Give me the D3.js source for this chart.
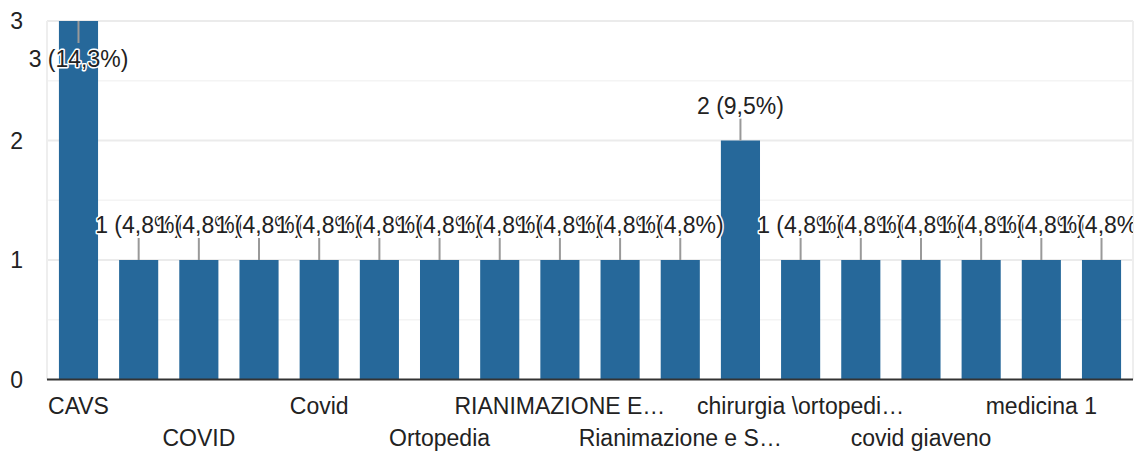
<!DOCTYPE html>
<html><head><meta charset="utf-8">
<script src="https://cdn.jsdelivr.net/npm/d3@7"></script>
<style>
html,body{margin:0;padding:0;background:#fff;}
svg{display:block;font-family:Arial,"Liberation Sans",sans-serif;}
</style></head><body>
<svg id="chart" width="1145" height="453"></svg>
<script>
// Categories (every other label is hidden in the original chart; hidden names are estimates)
const categories = [
  "CAVS", "CHIRURGIA", "COVID", "COVID 19", "Covid", "Medicina", "Ortopedia",
  "PRONTO SOCCORSO", "RIANIMAZIONE E…", "Rianimazione", "Rianimazione e S…",
  "Terapia intensiva", "chirurgia \\ortopedi…", "covid", "covid giaveno",
  "medicina", "medicina 1", "ortopedia"
];
const counts = [3,1,1,1,1,1,1,1,1,1,1,2,1,1,1,1,1,1];
const yTicks = [0,1,2,3];
const yMinorTicks = [0.5,1.5,2.5];

(function(){
const total = d3.sum(counts);
const svg = d3.select("#chart");
const pLeft = 48.4, pRight = 1131.6, pTop = 21, pBottom = 379.5;
const frameL = 47, frameR = 1133;
const FS = 23;

const x = d3.scaleBand().domain(categories).range([pLeft, pRight])
  .paddingInner(0.35).paddingOuter(0.175);
const y = d3.scaleLinear().domain([0,3]).range([pBottom, pTop]);

// minor gridlines
svg.append("g").selectAll("line").data(yMinorTicks).join("line")
  .attr("x1", frameL).attr("x2", frameR)
  .attr("y1", d=>y(d)).attr("y2", d=>y(d))
  .attr("stroke", "#f4f4f4").attr("stroke-width", 1.5);
// major gridlines
svg.append("g").selectAll("line").data(yTicks.filter(d=>d>0)).join("line")
  .attr("x1", frameL).attr("x2", frameR)
  .attr("y1", d=>y(d)).attr("y2", d=>y(d))
  .attr("stroke", "#ebebeb").attr("stroke-width", 2);
// vertical frame lines
svg.append("g").selectAll("line").data([frameL, frameR]).join("line")
  .attr("x1", d=>d).attr("x2", d=>d).attr("y1", pTop).attr("y2", pBottom)
  .attr("stroke", "#eeeeee").attr("stroke-width", 2);

// y tick labels
svg.append("g").selectAll("text").data(yTicks).join("text")
  .attr("x", 23).attr("y", d=>y(d)).attr("dy", "0.36em")
  .attr("text-anchor", "end").attr("font-size", FS).attr("fill", "#222")
  .text(d=>d);

// bars
svg.append("g").selectAll("rect").data(counts).join("rect")
  .attr("x", (d,i)=>x(categories[i])).attr("width", x.bandwidth())
  .attr("y", d=>y(d)).attr("height", d=>y(0)-y(d))
  .attr("fill", "#26689a");

// baseline
svg.append("line").attr("x1", frameL).attr("x2", frameR)
  .attr("y1", y(0)).attr("y2", y(0)).attr("stroke", "#333").attr("stroke-width", 2);

// x labels: every other category, staggered in two rows
const xl = svg.append("g");
categories.forEach((c,i)=>{
  if (i % 2 !== 0) return;
  const row = (i/2) % 2;
  xl.append("text")
    .attr("x", x(c) + x.bandwidth()/2)
    .attr("y", row === 0 ? 414 : 446)
    .attr("text-anchor", "middle").attr("font-size", FS).attr("fill", "#222")
    .text(c);
});

// annotations
svg.append("clipPath").attr("id","annClip").append("rect")
  .attr("x", 0).attr("y", 0).attr("width", frameR).attr("height", 453);
const ann = svg.append("g").attr("clip-path", "url(#annClip)");
counts.forEach((v,i)=>{
  const cx = x(categories[i]) + x.bandwidth()/2;
  const by = y(v);
  const label = v + " (" + (v/total*100).toFixed(1).replace(".", ",") + "%)";
  const stem = 22;
  const inside = (by - stem - 5 - 17) < 0;
  let sy2, ty;
  if (!inside) { sy2 = by - stem; ty = by - stem - 5; }
  else { sy2 = by + stem; ty = by + stem + 24; }
  ann.append("line").attr("x1", cx).attr("x2", cx).attr("y1", by).attr("y2", sy2)
    .attr("stroke", "#999").attr("stroke-width", 2);
  ann.append("text").attr("x", cx).attr("y", ty)
    .attr("text-anchor", "middle").attr("font-size", FS)
    .attr("fill", "#222").attr("stroke", "#fff").attr("stroke-width", 3)
    .attr("paint-order", "stroke").attr("stroke-linejoin", "round")
    .text(label);
});
})();
</script>
</body></html>
